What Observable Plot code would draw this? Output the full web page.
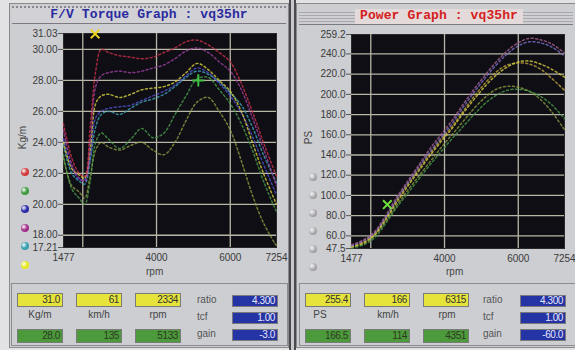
<!DOCTYPE html>
<html>
<head>
<meta charset="utf-8">
<script src="https://cdn.jsdelivr.net/npm/d3@7"></script>
<script src="https://cdn.jsdelivr.net/npm/@observablehq/plot@0.6"></script>
<style>
  html, body { margin: 0; padding: 0; }
  body { width: 575px; height: 350px; background: #e2e2e4; position: relative; overflow: hidden; font-family: "Liberation Sans", Arial, sans-serif; }
  .abs { position: absolute; }
  .panel { background: #cdced2; }
  .title { font-family: "Liberation Mono", "DejaVu Sans Mono", monospace; font-weight: bold; font-size: 13px; white-space: nowrap; letter-spacing: 0.1px; }
  .box { border: 1px solid #7a7a7a; box-sizing: border-box; font-size: 10px; text-align: right; padding-right: 2px; line-height: 12px; letter-spacing: -0.4px; }
  .yel { background: #e6e43a; color: #333; }
  .grn { background: #4d9a3c; color: #2a3a20; }
  .blu { background: #2434a4; color: #e8e8ff; }
  .lbl { font-size: 10px; color: #444; text-align: center; white-space: nowrap; }
  .dot { width: 8px; height: 8px; border-radius: 50%; }
  .axlbl { font-size: 10px; color: #444; white-space: nowrap; }
</style>
</head>
<body>
<div id="root"></div>
<script>
// ---------- data ----------
const torqueRpm = [1477, 1700, 1900, 2050, 2200, 2350, 2500, 2700, 3000, 3300, 3600, 3900, 4200, 4500, 4800, 5100, 5400, 5700, 6000, 6300, 6600, 6900, 7254];
const torqueRed    = [25.2, 23.0, 22.0, 21.8, 25.0, 28.6, 30.0, 29.8, 29.6, 29.5, 29.4, 29.5, 29.8, 30.1, 30.5, 30.6, 30.3, 29.8, 29.2, 27.8, 26.0, 24.0, 21.8];
const torquePurple = [24.8, 22.6, 21.7, 21.5, 24.0, 27.6, 28.3, 28.5, 28.6, 28.5, 28.6, 28.8, 29.0, 29.4, 29.9, 30.1, 29.8, 29.2, 28.6, 27.4, 25.6, 23.6, 21.2];
const torqueBlue   = [24.2, 22.4, 21.6, 21.6, 23.0, 25.6, 26.0, 26.2, 26.3, 26.4, 26.7, 27.0, 27.3, 27.7, 28.3, 28.8, 28.5, 27.8, 27.0, 25.9, 24.4, 22.6, 20.6];
const torqueYellow = [24.0, 22.3, 21.9, 21.7, 23.5, 26.5, 27.0, 27.1, 26.9, 27.1, 27.4, 27.5, 27.6, 27.9, 28.5, 29.1, 28.7, 28.0, 27.3, 26.0, 24.0, 22.0, 20.0];
const torqueTeal   = [23.8, 22.0, 21.5, 21.3, 22.8, 25.0, 25.8, 26.0, 25.8, 26.2, 26.6, 26.8, 27.1, 27.6, 28.2, 28.6, 28.4, 27.9, 27.2, 26.4, 25.0, 23.2, 21.4];
const torqueGreen  = [23.2, 21.0, 20.4, 20.0, 21.5, 24.0, 24.6, 24.2, 23.6, 24.2, 24.9, 24.3, 24.6, 25.8, 27.0, 28.1, 28.2, 27.4, 26.5, 25.2, 23.5, 21.5, 19.5];
const torqueOlive  = [23.0, 21.2, 20.8, 20.4, 21.8, 23.5, 24.0, 23.7, 23.5, 23.8, 24.0, 23.5, 23.2, 24.0, 25.4, 26.6, 26.9, 26.0, 24.8, 22.8, 20.6, 18.8, 17.3];

const powerRpm = [1477, 1800, 2100, 2400, 2700, 3000, 3300, 3600, 3900, 4200, 4500, 4800, 5100, 5400, 5700, 6000, 6300, 6600, 6900, 7254];
const powerPurple = [51, 56, 64, 80, 98, 114, 130, 146, 160, 174, 190, 205, 219, 232, 243, 251, 255.4, 254, 250, 241];
const powerBlue   = [50, 55, 63, 78, 96, 112, 128, 143, 157, 171, 187, 202, 216, 229, 240, 248, 252, 251, 247, 238];
const powerYellow = [49, 53, 61, 76, 93, 109, 124, 139, 153, 166, 181, 195, 208, 219, 227, 232, 233, 230, 225, 217];
const powerRed    = [50, 54, 62, 77, 95, 111, 126, 141, 155, 168, 183, 198, 211, 222, 229, 231, 230, 225, 216, 204];
const powerGreen  = [48, 51, 58, 72, 88, 102, 116, 130, 143, 156, 168, 180, 191, 199, 204, 205, 203, 198, 190, 176];
const powerOlive  = [49, 52, 60, 74, 90, 105, 119, 133, 147, 160, 173, 186, 197, 205, 208, 207, 203, 195, 183, 165];

const torqueYTicks = [17.21, 18, 20, 22, 24, 26, 28, 30, 31.03];
const torqueYGrid = [18, 20, 22, 24, 26, 28, 30];
const powerYTicks = [47.5, 60, 80, 100, 120, 140, 160, 180, 200, 220, 240, 259.2];
const powerYGrid = [60, 80, 100, 120, 140, 160, 180, 200, 220, 240];
const xTicks = [1477, 4000, 6000, 7254];
const xGrid = [2000, 4000, 6000];

const legendColors = ["#d03a3a", "#3e9a3e", "#2c2ca8", "#a0308a", "#3aa0b0", "#e8e820"];

const torqueCursors = [{rpm: 2334, v: 31.0, c: "#e8d020", s: "times"}, {rpm: 5133, v: 28.0, c: "#40c040", s: "plus"}];
const powerCursors = [{rpm: 2450, v: 91, c: "#70e040", s: "times"}];

const leftTop = ["31.0", "61", "2334"];
const leftBottom = ["28.0", "135", "5133"];
const leftUnits = ["Kg/m", "km/h", "rpm"];
const rightTop = ["255.4", "166", "6315"];
const rightBottom = ["166.5", "114", "4351"];
const rightUnits = ["PS", "km/h", "rpm"];
const sideLabels = ["ratio", "tcf", "gain"];
const leftSide = ["4.300", "1.00", "-3.0"];
const rightSide = ["4.300", "1.00", "-60.0"];

// ---------- helpers ----------
const root = document.getElementById("root");
function div(cls, style, text) {
  const d = document.createElement("div");
  d.className = "abs " + (cls || "");
  Object.assign(d.style, style);
  if (text != null) d.textContent = text;
  root.appendChild(d);
  return d;
}
function longData(rpm, series) {
  const out = [];
  for (const [name, vals, color] of series) {
    vals.forEach((v, i) => out.push({series: name, rpm: rpm[i], v, color}));
  }
  return out;
}

// ---------- panel backgrounds ----------
div("panel", {left: "9px", top: "3px", width: "280px", height: "345px", border: "1px solid #8a8a8a", boxSizing: "border-box"});
div("panel", {left: "296px", top: "3px", width: "282px", height: "345px", border: "1px solid #8a8a8a", boxSizing: "border-box"});
div("", {left: "289px", top: "0px", width: "2px", height: "350px", background: "#4a4a4e"});
div("", {left: "294px", top: "0px", width: "2px", height: "350px", background: "#4a4a4e"});
div("", {left: "291px", top: "0px", width: "3px", height: "350px", background: "#c8c8cc"});

// title bars
div("", {left: "12px", top: "6px", width: "274px", height: "18px", background: "#d2d2d6", borderTop: "2px dotted #8a8a90", borderBottom: "1px solid #7a7a80", boxSizing: "border-box"});
div("title", {left: "12px", top: "7px", width: "274px", textAlign: "center", color: "#2a2aa0"}, "F/V Torque Graph : vq35hr");
div("", {left: "299px", top: "12px", width: "274px", height: "10px", background: "repeating-linear-gradient(to bottom, #a8a8ac 0px, #a8a8ac 1px, #d0d0d4 1px, #d0d0d4 3px)"});
div("", {left: "299px", top: "24px", width: "274px", height: "1px", background: "#7a7a80"});
div("", {left: "355px", top: "9px", width: "168px", height: "15px", background: "#e4dada"});
div("title", {left: "355px", top: "8px", width: "168px", textAlign: "center", color: "#d42020"}, "Power Graph : vq35hr");

// ---------- charts ----------
function makeChart({rpm, series, yDomain, yTicks, yGrid, fmt, cursors, marginLeft, marginRight, width}) {
  const data = longData(rpm, series);
  return Plot.plot({
    width, height: 265,
    marginLeft, marginRight, marginTop: 13, marginBottom: 38,
    style: {background: "transparent", fontFamily: "Liberation Sans, Arial, sans-serif", fontSize: "10px", color: "#3a3a3a"},
    x: {domain: [1477, 7254]},
    y: {domain: yDomain},
    marks: [
      Plot.frame({fill: "#0e0e14", stroke: "#2a2a2a"}),
      Plot.ruleY(yGrid, {stroke: "#b8b6a4", strokeWidth: 1.3}),
      Plot.ruleX(xGrid, {stroke: "#b8b6a4", strokeWidth: 1.3}),
      Plot.line(data, {x: "rpm", y: "v", z: "series", stroke: "color", strokeWidth: 1.5, strokeDasharray: "2,2.5", strokeLinecap: "round", strokeOpacity: 0.8, curve: "catmull-rom"}),
      Plot.dot(cursors, {x: "rpm", y: "v", stroke: "c", symbol: "s", r: 4, strokeWidth: 2}),
      Plot.axisY({ticks: yTicks, tickFormat: fmt, tickSize: 5, tickPadding: 1, label: null, fill: "#3a3a3a", stroke: "#555"}),
      Plot.axisX({ticks: xTicks, tickFormat: d => String(d), tickSize: 0, tickPadding: 6, label: null, fill: "#3a3a3a"})
    ]
  });
}

const torqueChart = makeChart({
  rpm: torqueRpm,
  series: [
    ["olive", torqueOlive, "#8a9a40"],
    ["green", torqueGreen, "#4a9a4a"],
    ["teal", torqueTeal, "#40a0b4"],
    ["blue", torqueBlue, "#5050c8"],
    ["yellow", torqueYellow, "#d8d040"],
    ["purple", torquePurple, "#a040a0"],
    ["red", torqueRed, "#c83048"]
  ],
  yDomain: [17.21, 31.03], yTicks: torqueYTicks, yGrid: torqueYGrid, fmt: d => d.toFixed(2),
  cursors: torqueCursors, marginLeft: 63, marginRight: 13, width: 289
});
torqueChart.style.position = "absolute";
torqueChart.style.left = "0px";
torqueChart.style.top = "20px";
root.appendChild(torqueChart);

const powerChart = makeChart({
  rpm: powerRpm,
  series: [
    ["olive", powerOlive, "#8a9a40"],
    ["green", powerGreen, "#4a9a4a"],
    ["red", powerRed, "#c0a040"],
    ["yellow", powerYellow, "#d8d040"],
    ["blue", powerBlue, "#7a70c8"],
    ["purple", powerPurple, "#a86090"]
  ],
  yDomain: [47.5, 259.2], yTicks: powerYTicks, yGrid: powerYGrid, fmt: d => d.toFixed(1),
  cursors: powerCursors, marginLeft: 61, marginRight: 11, width: 285
});
powerChart.style.position = "absolute";
powerChart.style.left = "290px";
powerChart.style.top = "21px";
root.appendChild(powerChart);

// axis titles
div("axlbl", {left: "146px", top: "266px"}, "rpm");
div("axlbl", {left: "446px", top: "266px"}, "rpm");
div("axlbl", {left: "11px", top: "132px", transform: "rotate(-90deg)"}, "Kg/m");
div("axlbl", {left: "302px", top: "132px", transform: "rotate(-90deg)"}, "PS");

// legend dots
legendColors.forEach((c, i) => {
  div("dot", {left: "21px", top: (168 + i * 18.5) + "px", background: `radial-gradient(circle at 35% 35%, #ffffff 0%, ${c} 45%, ${c} 100%)`});
  div("dot", {left: "309px", top: (173 + i * 18) + "px", background: "radial-gradient(circle at 35% 35%, #f4f4f4 0%, #a8a8ac 55%, #8a8a8e 100%)"});
});

// ---------- bottom readouts ----------
function readout(x0, tops, bottoms, units, sideVals, sideX, blueX, unitXs) {
  div("", {left: (x0 - 6) + "px", top: "283px", width: "277px", height: "63px", border: "1px solid #8c8c90", boxSizing: "border-box"});
  const xs = [x0, x0 + 59, x0 + 118];
  xs.forEach((x, i) => {
    div("box yel", {left: x + "px", top: "293px", width: "46px", height: "14px"}, tops[i]);
    div("box grn", {left: x + "px", top: "329px", width: "46px", height: "14px"}, bottoms[i]);
    div("lbl", {left: (unitXs[i] - 20) + "px", top: "309px", width: "40px"}, units[i]);
  });
  sideLabels.forEach((t, i) => {
    div("lbl", {left: sideX + "px", top: (294 + i * 17) + "px", textAlign: "left", color: "#555"}, t);
    div("box blu", {left: blueX + "px", top: (295 + i * 17) + "px", width: "46px", height: "12px", lineHeight: "10px"}, sideVals[i]);
  });
}
readout(17, leftTop, leftBottom, leftUnits, leftSide, 197, 232, [40, 99, 158]);
readout(305, rightTop, rightBottom, rightUnits, rightSide, 483, 520, [320, 388, 447]);
</script>
</body>
</html>
